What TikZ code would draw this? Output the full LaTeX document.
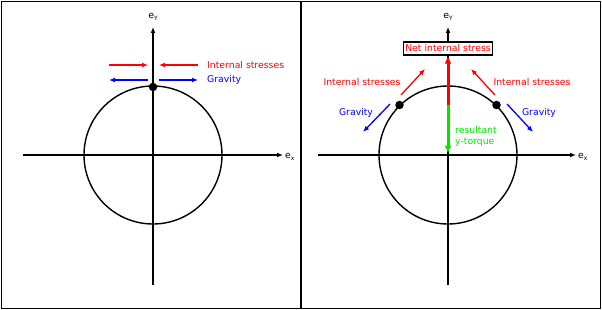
\documentclass[tikz,border=0pt]{standalone}
\usepackage{fontspec}
\setmainfont{DejaVu Sans}
\usetikzlibrary{arrows.meta}
\definecolor{myred}{RGB}{255,0,0}
\definecolor{myblue}{RGB}{0,0,255}
\definecolor{mygreen}{RGB}{0,230,0}
\newcommand{\lbl}[1]{\fontsize{9.3}{11}\selectfont #1}
\newcommand{\evec}[1]{e\raisebox{-2.2pt}{\fontsize{6}{6}\selectfont #1}}
\begin{document}
\begin{tikzpicture}[x=1pt,y=-1pt,
  axis/.style={line width=1.4pt,-{Latex[length=6pt,width=5pt]}},
  ring/.style={line width=1.4pt},
  thin arrow/.style={line width=1.3pt,-{Latex[length=6pt,width=5pt]}},
  thick arrow/.style={line width=3pt,-{Latex[length=8pt,width=7pt]}},
  txt/.style={inner sep=0pt,font=\lbl{}},
  dot/.style={circle,fill=black,inner sep=0pt,minimum size=8.5pt}]
\useasboundingbox (0,0) rectangle (602,310);
% frames
\draw[line width=1.6pt] (1.5,1.5) rectangle (600.5,308.5);
\draw[line width=1.6pt] (301,1.5) -- (301,308.5);

% ---------- left panel ----------
\coordinate (Lb) at (153,285);
\coordinate (Lt) at (153,27);
\coordinate (Ll) at (23,155);
\coordinate (Lr) at (283,155);
\draw[axis] (Lb) -- (Lt);
\draw[axis] (Ll) -- (Lr);
\node[txt,anchor=south] (Ley) at (153,21) {\evec{Y}};
\node[txt,anchor=west] (Lex) at (285,157) {\evec{x}};
\draw[ring] (153,155) circle (69);
\node[dot] (Ld) at (153,87) {};
\coordinate (Lr1) at (109,65);
\coordinate (Lr2) at (148,65);
\coordinate (Lr3) at (198,65);
\coordinate (Lr4) at (159,65);
\draw[thin arrow,myred] (Lr1) -- (Lr2);
\draw[thin arrow,myred] (Lr3) -- (Lr4);
\coordinate (Lb1) at (148,80);
\coordinate (Lb2) at (109,80);
\coordinate (Lb3) at (159,80);
\coordinate (Lb4) at (198,80);
\draw[thin arrow,myblue] (Lb1) -- (Lb2);
\draw[thin arrow,myblue] (Lb3) -- (Lb4);
\node[txt,anchor=west,text=myred] (Lis) at (207,65) {Internal stresses};
\node[txt,anchor=west,text=myblue] (Lg) at (207,80) {Gravity};

% ---------- right panel ----------
\coordinate (Rb) at (448,285);
\coordinate (Rt) at (448,27);
\coordinate (Rl) at (318,155);
\coordinate (Rr) at (576,155);
\draw[axis] (Rb) -- (Rt);
\draw[axis] (Rl) -- (Rr);
\node[txt,anchor=south] (Rey) at (448,21) {\evec{Y}};
\node[txt,anchor=west] (Rex) at (578,157) {\evec{x}};
\draw[ring] (448,155) circle (69);
\node[draw,fill=white,line width=1.4pt,inner sep=2pt,minimum height=13pt,text=myred,font=\lbl{}] (net) at (448,48.5) {Net internal stress};
\coordinate (Rc) at (448,105);
\coordinate (Rg) at (448,153.5);
\draw[thick arrow,myred] (Rc) -- (net.south);
\draw[line width=3pt,mygreen,-{Latex[length=8pt,width=7pt]}] (Rc) -- (Rg);
\node[txt,anchor=north west,text=mygreen,align=left] (tq) at (455,126) {resultant\\y-torque};
\node[dot] (Rd1) at (399.5,105) {};
\node[dot] (Rd2) at (496.5,105) {};
\coordinate (Ra1) at (401,95);
\coordinate (Ra2) at (425,69);
\coordinate (Ra3) at (495,95);
\coordinate (Ra4) at (471,69);
\draw[thin arrow,myred] (Ra1) -- (Ra2);
\draw[thin arrow,myred] (Ra3) -- (Ra4);
\coordinate (Rb1) at (390,104);
\coordinate (Rb2) at (363,132);
\coordinate (Rb3) at (507,104);
\coordinate (Rb4) at (533,132);
\draw[thin arrow,myblue] (Rb1) -- (Rb2);
\draw[thin arrow,myblue] (Rb3) -- (Rb4);
\node[txt,text=myred] (Ris1) at (362,82) {Internal stresses};
\node[txt,text=myred] (Ris2) at (532,82) {Internal stresses};
\node[txt,text=myblue] (Rg1) at (356,113) {Gravity};
\node[txt,text=myblue] (Rg2) at (539,113) {Gravity};
\end{tikzpicture}
\end{document}
